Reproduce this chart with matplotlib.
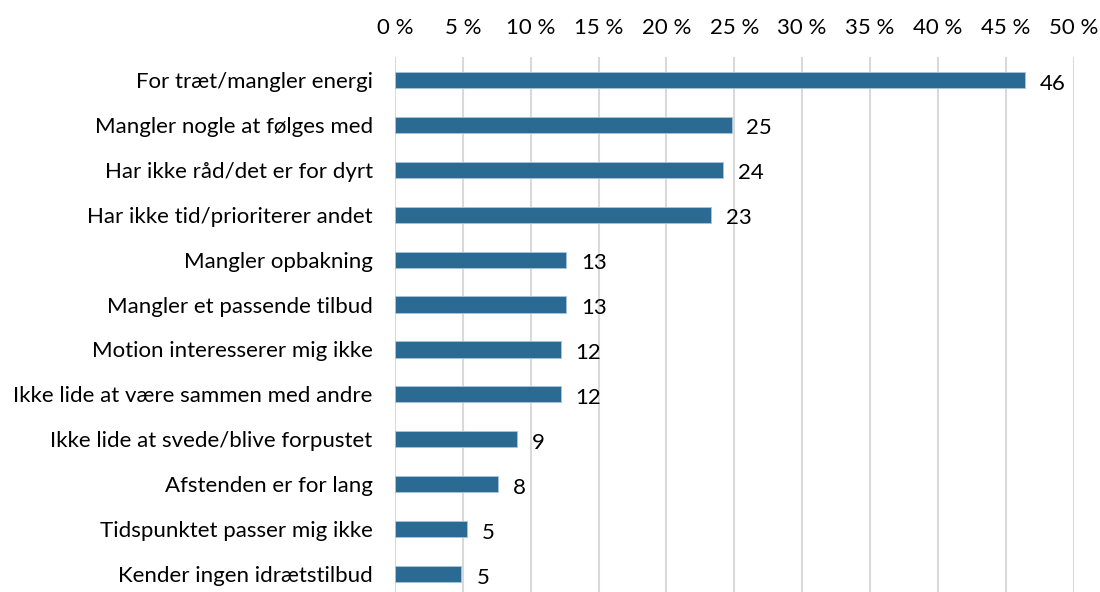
import numpy as np
from matplotlib import pyplot as plt
from matplotlib.ticker import FuncFormatter

categories = [
	"For træt/mangler energi",
	"Mangler nogle at følges med",
	"Har ikke råd/det er for dyrt",
	"Har ikke tid/prioriterer andet",
	"Mangler opbakning",
	"Mangler et passende tilbud",
	"Motion interesserer mig ikke",
	"Ikke lide at være sammen med andre",
	"Ikke lide at svede/blive forpustet",
	"Afstenden er for lang",
	"Tidspunktet passer mig ikke",
	"Kender ingen idrætstilbud",
]
values = [46.4, 24.8, 24.2, 23.3, 12.6, 12.6, 12.2, 12.2, 9.0, 7.6, 5.3, 4.9]
labels = ["46", "25", "24", "23", "13", "13", "12", "12", "9", "8", "5", "5"]

plt.rcParams['font.family'] = ['Lato', 'DejaVu Sans']
fs = 16

fig = plt.figure(figsize=(11, 5.92), dpi=100)
ax = fig.add_axes([0.359, -0.0076, 0.617, 0.9105])

y = np.arange(len(categories))
ax.barh(y, values, height=0.36, color='#2a6a93', edgecolor='#a9c4d8', linewidth=0.6, zorder=3)
for yi, v, lab in zip(y, values, labels):
	ax.text(v + 1.1, yi + 0.08, lab, va='center', ha='left', fontsize=fs, color='black')

ax.set_ylim(len(categories) - 0.5, -0.5)
ax.set_xlim(0, 50)
ax.set_xticks(np.arange(0, 51, 5))
ax.xaxis.set_major_formatter(FuncFormatter(lambda x, p: "%d %%" % x))
ax.xaxis.tick_top()
ax.set_yticks(y)
ax.set_yticklabels(categories, fontsize=fs)
ax.tick_params(axis='x', labelsize=fs, length=0, pad=14)
ax.tick_params(axis='y', length=0, pad=16)
ax.grid(axis='x', color='#d9d9d9', linewidth=1.5, zorder=0)
for s in ax.spines.values():
	s.set_visible(False)

fig.savefig("out.png", dpi=100)
